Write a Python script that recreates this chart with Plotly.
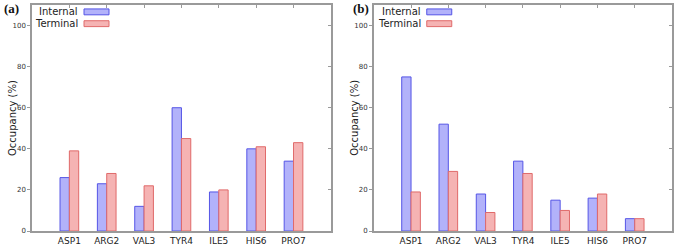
import plotly.graph_objects as go

categories = ["ASP1", "ARG2", "VAL3", "TYR4", "ILE5", "HIS6", "PRO7"]
a_internal = [26, 23, 12, 60, 19, 40, 34]
a_terminal = [39, 28, 22, 45, 20, 41, 43]
b_internal = [75, 52, 18, 34, 15, 16, 6]
b_terminal = [19, 29, 9, 28, 10, 18, 6]
series_names = ["Internal", "Terminal"]
y_ticks = [0, 20, 40, 60, 80, 100]

FILL = {"Internal": "#b2b2fa", "Terminal": "#f5b3b3"}
LINE = {"Internal": "#5555e6", "Terminal": "#e06a6a"}
AXC = "#9a9a9a"
FONT = "DejaVu Sans"
PW, PH = 640, 230  # plot-area size in px (for paper-coordinate offsets)

fig = go.Figure()
panels = [("x", "y", a_internal, a_terminal), ("x2", "y2", b_internal, b_terminal)]
for xa, ya, internal, terminal in panels:
    for name, vals in zip(series_names, [internal, terminal]):
        fig.add_trace(go.Bar(
            x=categories, y=vals, name=name, xaxis=xa, yaxis=ya,
            marker=dict(color=FILL[name], line=dict(color=LINE[name], width=1)),
            showlegend=False,
        ))

doms = [[0.0, 0.467], [0.534, 1.0]]
ncat = len(categories)
common_x = dict(type="category", range=[-1, ncat], showline=True, linecolor=AXC,
                linewidth=1.5, ticks="", showgrid=False, zeroline=False,
                tickfont=dict(family=FONT, size=9, color="#222"))
common_y = dict(range=[0, 110], showline=True, linecolor=AXC, linewidth=1.5, ticks="outside",
                ticklen=3, tickcolor=AXC, tickvals=y_ticks, showgrid=False, zeroline=False,
                ticklabelstandoff=0,
                tickfont=dict(family=FONT, size=7, color="#333"))

def top_axis(over, anc):
    return dict(overlaying=over, anchor=anc, side="top", range=[-1, ncat],
                tickvals=list(range(ncat)), showticklabels=False, ticks="inside",
                ticklen=3, tickcolor=AXC, showline=True, linecolor=AXC, linewidth=1.5,
                showgrid=False, zeroline=False)

def right_axis(over, anc):
    return dict(overlaying=over, anchor=anc, side="right", range=[0, 110], tickvals=y_ticks,
                showticklabels=False, ticks="inside", ticklen=3, tickcolor=AXC, showline=True,
                linecolor=AXC, linewidth=1.5, showgrid=False, zeroline=False)

fig.update_layout(
    width=676, height=250, margin=dict(l=32, r=4, t=5, b=15),
    paper_bgcolor="white", plot_bgcolor="white",
    barmode="group", bargap=0.5, bargroupgap=0,
    xaxis=dict(domain=doms[0], anchor="y", **common_x),
    xaxis2=dict(domain=doms[1], anchor="y2", **common_x),
    yaxis=dict(domain=[0, 1], anchor="x", **common_y),
    yaxis2=dict(domain=[0, 1], anchor="x2", **common_y),
    xaxis3=top_axis("x", "y"),
    xaxis4=top_axis("x2", "y2"),
    yaxis3=right_axis("y", "x"),
    yaxis4=right_axis("y2", "x2"),
)

for xa, ya in [("x3", "y"), ("x", "y3"), ("x4", "y2"), ("x2", "y4")]:
    fig.add_trace(go.Scatter(x=[None], y=[None], xaxis=xa, yaxis=ya, showlegend=False,
                             hoverinfo="skip", mode="markers"))

annotations = []
shapes = []
for i, (xd, lab) in enumerate(zip(doms, ["(a)", "(b)"])):
    x0 = xd[0]
    annotations.append(dict(text="<b>%s</b>" % lab, xref="paper", yref="paper",
                            x=x0 - (30 / PW if i == 0 else 23 / PW), y=1 - 4 / PH,
                            xanchor="left", yanchor="middle", showarrow=False,
                            font=dict(family="Liberation Serif", size=13, color="#111")))
    annotations.append(dict(text="Occupancy (%)", xref="paper", yref="paper",
                            x=x0 - 20 / PW, y=0.5, textangle=-90,
                            xanchor="center", yanchor="middle", showarrow=False,
                            font=dict(family=FONT, size=10, color="#222")))
    for j, name in enumerate(series_names):
        yc = 1 - (7 + 12 * j) / PH
        tx = x0 + (48 / PW if i == 0 else 49 / PW)
        annotations.append(dict(text=name, xref="paper", yref="paper", x=tx, y=yc,
                                xanchor="right", yanchor="middle", showarrow=False,
                                font=dict(family=FONT, size=10, color="#222")))
        shapes.append(dict(type="rect", xref="paper", yref="paper",
                           x0=tx + 4 / PW, x1=tx + 29 / PW,
                           y0=yc - 3 / PH, y1=yc + 3 / PH,
                           fillcolor=FILL[name], line=dict(color=LINE[name], width=1)))
fig.update_layout(annotations=annotations, shapes=shapes)

fig.write_html("out.html", config={"displayModeBar": False},
               post_script="document.body.style.margin='0';document.body.style.padding='0';")
